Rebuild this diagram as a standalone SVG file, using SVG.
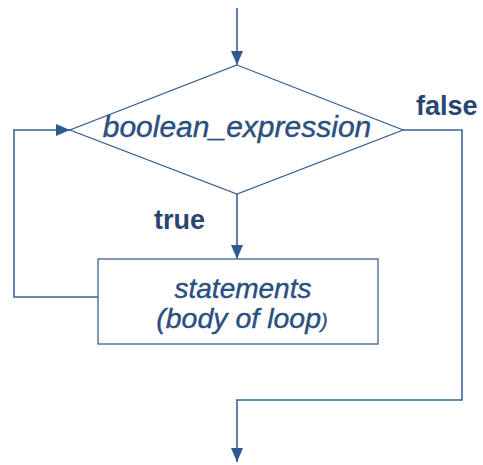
<svg xmlns="http://www.w3.org/2000/svg" width="483" height="465" viewBox="0 0 483 465">
  <style>
    .line { fill: none; stroke: #3b6394; stroke-width: 1.6; }
    .shape { fill: #ffffff; stroke: #3b6394; stroke-width: 1.3; }
    .label { font-family: "Liberation Sans", Arial, sans-serif; fill: #2b4f7e; }
    .it { font-style: italic; stroke: #2b4f7e; stroke-width: 0.4; }
    .bold { font-weight: bold; font-size: 27px; fill: #2a4670; }
  </style>
  <defs>
    <marker id="arrow" viewBox="0 0 14 12" refX="14" refY="6" markerWidth="14" markerHeight="12" markerUnits="userSpaceOnUse" orient="auto">
      <path d="M0,0 L14,6 L0,12 Z" fill="#2f5a8f"/>
    </marker>
  </defs>
  <rect width="483" height="465" fill="#ffffff"/>

  <g id="connectors">
    <!-- entry -->
    <line class="line" x1="237" y1="8" x2="237" y2="65" marker-end="url(#arrow)"/>
    <!-- true branch -->
    <line class="line" x1="237" y1="194" x2="237" y2="259" marker-end="url(#arrow)"/>
    <!-- loop back -->
    <polyline class="line" points="98,297 14,297 14,130 70,130" marker-end="url(#arrow)"/>
    <!-- false branch / exit -->
    <polyline class="line" points="403,130 462,130 462,400 237,400 237,462" marker-end="url(#arrow)"/>
  </g>

  <g id="condition">
    <polygon class="shape" points="237,65 403,130 237,194 70,130"/>
    <text class="label it" x="237" y="137" font-size="30" text-anchor="middle">boolean_expression</text>
  </g>

  <g id="body">
    <rect class="shape" x="98" y="259" width="280" height="85"/>
    <text class="label it" x="243" y="298" font-size="28" text-anchor="middle">statements</text>
    <text class="label it" x="242" y="328" font-size="28.5" text-anchor="middle">(body of loop<tspan font-size="20">)</tspan></text>
  </g>

  <g id="labels">
    <text class="label bold" x="416" y="115">false</text>
    <text class="label bold" x="154" y="229">true</text>
  </g>
</svg>
